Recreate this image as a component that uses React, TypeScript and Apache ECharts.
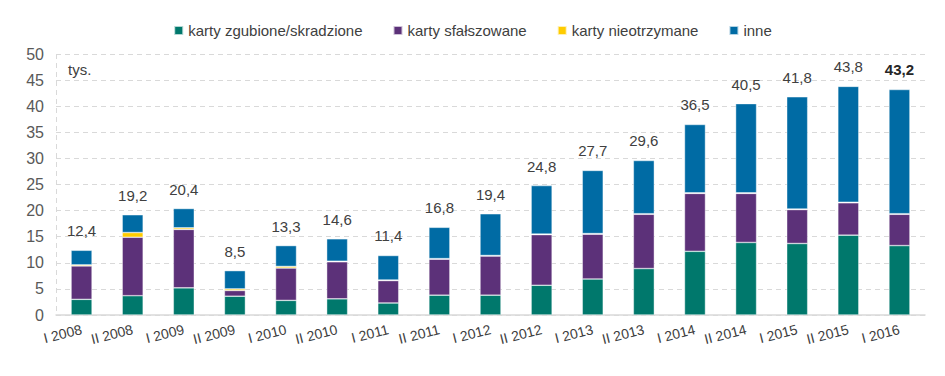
import React, { useEffect, useRef } from "react";
import * as echarts from "echarts";

const categories = [
  "I 2008", "II 2008", "I 2009", "II 2009", "I 2010", "II 2010", "I 2011", "II 2011",
  "I 2012", "II 2012", "I 2013", "II 2013", "I 2014", "II 2014", "I 2015", "II 2015", "I 2016",
];
const zgubione = [3.0, 3.7, 5.2, 3.6, 2.8, 3.1, 2.3, 3.8, 3.8, 5.7, 6.9, 8.9, 12.2, 13.9, 13.7, 15.3, 13.3];
const sfalszowane = [6.4, 11.2, 11.2, 1.1, 6.2, 7.1, 4.3, 6.9, 7.5, 9.7, 8.6, 10.4, 11.1, 9.4, 6.5, 6.2, 6.0];
const nieotrzymane = [0.2, 0.9, 0.3, 0.3, 0.3, 0.1, 0.1, 0.1, 0.1, 0.1, 0.1, 0.1, 0.1, 0.1, 0.1, 0.1, 0.1];
const inne = [2.8, 3.4, 3.7, 3.5, 4.0, 4.3, 4.7, 6.0, 8.0, 9.3, 12.1, 10.2, 13.1, 17.1, 21.5, 22.2, 23.8];
const totals = [12.4, 19.2, 20.4, 8.5, 13.3, 14.6, 11.4, 16.8, 19.4, 24.8, 27.7, 29.6, 36.5, 40.5, 41.8, 43.8, 43.2];
const yTicks = { min: 0, max: 50, interval: 5 };

const COLORS = ["#00786C", "#5C3179", "#FFCC00", "#006BA4"];
const FONT = "Liberation Sans, Arial, sans-serif";

export default function App() {
  const ref = useRef<HTMLDivElement>(null);
  useEffect(() => {
    document.body.style.margin = "0";
    const chart = echarts.init(ref.current!, null, { renderer: "svg" });
    const fmt = (v: number) => v.toFixed(1).replace(".", ",");
    const itemStyleBase = { borderColor: "rgba(255,255,255,0.7)", borderWidth: 0.6 };
    const mk = (name: string, data: number[], color: string) => ({
      name,
      type: "bar",
      stack: "s",
      barWidth: 21,
      data,
      itemStyle: { color, ...itemStyleBase },
    });
    const inneData = inne.map((v, i) => ({
      value: v,
      label: {
        show: true,
        position: "top",
        distance: 12,
        formatter: fmt(totals[i]),
        color: i === inne.length - 1 ? "#262626" : "#404040",
        fontWeight: i === inne.length - 1 ? "bold" : "normal",
        fontSize: 15,
        fontFamily: FONT,
      },
    }));
    chart.setOption({
      animation: false,
      textStyle: { fontFamily: FONT },
      color: COLORS,
      legend: {
        top: 18,
        left: "center",
        itemWidth: 9,
        itemHeight: 9,
        itemGap: 30,
        icon: "rect",
        textStyle: { fontSize: 15, color: "#404040", fontFamily: FONT },
        data: ["karty zgubione/skradzione", "karty sfałszowane", "karty nieotrzymane", "inne"],
      },
      grid: { left: 56, right: 20, top: 54, bottom: 61, containLabel: false },
      graphic: [
        {
          type: "text",
          left: 68,
          top: 62,
          style: { text: "tys.", fontSize: 15, fill: "#404040", fontFamily: FONT },
        },
        {
          type: "line",
          shape: { x1: 56.5, y1: 54, x2: 56.5, y2: 315 },
          style: { stroke: "#d9d9d9", lineWidth: 1, lineDash: [5, 4] },
        },
      ],
      xAxis: {
        type: "category",
        data: categories,
        axisLine: { show: true, lineStyle: { color: "#d9d9d9", width: 1.5 } },
        axisTick: { show: false },
        axisLabel: {
          rotate: 14,
          fontSize: 14,
          color: "#404040",
          margin: 14,
          interval: 0,
          fontFamily: FONT,
        },
      },
      yAxis: {
        type: "value",
        min: yTicks.min,
        max: yTicks.max,
        interval: yTicks.interval,
        axisLine: { show: false },
        axisTick: { show: false },
        axisLabel: { fontSize: 16, color: "#595959", margin: 12, fontFamily: FONT },
        splitLine: { show: true, lineStyle: { color: "#d9d9d9", type: [5, 4], width: 1 } },
      },
      series: [
        mk("karty zgubione/skradzione", zgubione, COLORS[0]),
        mk("karty sfałszowane", sfalszowane, COLORS[1]),
        mk("karty nieotrzymane", nieotrzymane, COLORS[2]),
        { ...mk("inne", inne, COLORS[3]), data: inneData },
      ],
    });
    return () => chart.dispose();
  }, []);
  return <div ref={ref} style={{ width: 945, height: 376 }} />;
}
